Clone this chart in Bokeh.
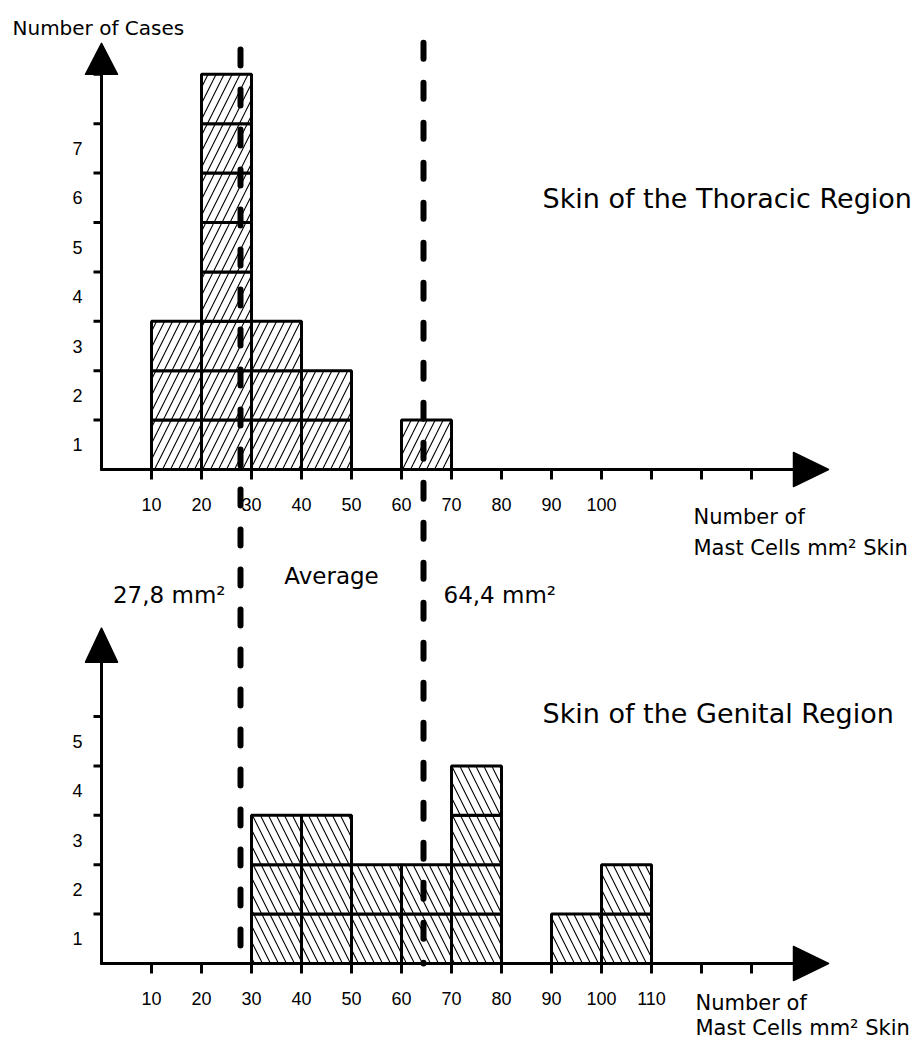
from bokeh.plotting import figure
from bokeh.models import Range1d
from bokeh.embed import file_html
from bokeh.resources import INLINE
from bokeh.core.properties import value

# ---------------- data ----------------
BIN_WIDTH = 10
thoracic_bins = [10, 20, 30, 40, 60]
thoracic_counts = [3, 8, 3, 2, 1]
genital_bins = [30, 40, 50, 60, 70, 90, 100]
genital_counts = [3, 3, 2, 2, 4, 1, 2]
averages = [27.8, 64.4]

x_ticks = [10, 20, 30, 40, 50, 60, 70, 80, 90, 100, 110, 120, 130]
thoracic_xlabels = [10, 20, 30, 40, 50, 60, 70, 80, 90, 100]
genital_xlabels = [10, 20, 30, 40, 50, 60, 70, 80, 90, 100, 110]
thoracic_yticks = [1, 2, 3, 4, 5, 6, 7, 8]
thoracic_ylabels = [1, 2, 3, 4, 5, 6, 7]
genital_yticks = [1, 2, 3, 4, 5]
genital_ylabels = [1, 2, 3, 4, 5]

title_top = "Skin of the Thoracic Region"
title_bottom = "Skin of the Genital Region"
y_title = "Number of Cases"
x_title = ["Number of", "Mast Cells mm\u00b2 Skin"]
avg_title = "Average"
avg_labels = [f"{a:.1f}".replace(".", ",") + " mm\u00b2" for a in averages]

# ---------------- layout ----------------
W, H = 918, 1040
PXX = 5.0      # px per unit on x
PXY = 49.4     # px per case on y
X0 = 101       # canvas px of x = 0
TOP_BASE = 469 # canvas px of top baseline
BOT_BASE = 963 # canvas px of bottom baseline

p = figure(width=W, height=H, output_backend="svg", toolbar_location=None,
           x_axis_type=None, y_axis_type=None, min_border=0,
           x_range=Range1d(-X0 / PXX, (W - X0) / PXX),
           y_range=Range1d((TOP_BASE - H) / PXY, TOP_BASE / PXY))
p.extra_y_ranges = {"bot": Range1d((BOT_BASE - H) / PXY, BOT_BASE / PXY)}
p.outline_line_color = None
p.background_fill_color = "white"
p.border_fill_color = "white"

INK = "black"
DEJAVU = value("DejaVu Sans")
LIB = value("Liberation Sans")


def panel(rn, bins, counts, hatch, yticks, ylabels, xlabels, yaxis_top, arrow_h):
    kw = {} if rn is None else {"y_range_name": rn}
    left, right, bottom, top = [], [], [], []
    for b, c in zip(bins, counts):
        for k in range(c):
            left.append(b)
            right.append(b + BIN_WIDTH)
            bottom.append(k)
            top.append(k + 1)
    p.quad(left=left, right=right, bottom=bottom, top=top,
           fill_color="white", hatch_pattern=hatch, hatch_color=INK,
           hatch_scale=16, hatch_weight=1.1,
           line_color=INK, line_width=3, **kw)
    # axes lines
    x_arrow_base = 138.4
    x_arrow_tip = x_arrow_base + 35 / PXX
    p.segment(x0=[0, 0], y0=[0, 0], x1=[0, x_arrow_base], y1=[yaxis_top, 0],
              line_color=INK, line_width=3, line_cap="round", **kw)
    # arrow heads
    hw = 16 / PXX
    hh = 17 / PXY
    p.patches(xs=[[-hw, hw, 0], [x_arrow_base, x_arrow_base, x_arrow_tip]],
              ys=[[yaxis_top, yaxis_top, yaxis_top + arrow_h / PXY], [-hh, hh, 0]],
              fill_color=INK, line_color=INK, line_width=1.5, line_join="round", **kw)
    # y ticks
    p.segment(x0=[-8 / PXX] * len(yticks), y0=yticks, x1=[0] * len(yticks), y1=yticks,
              line_color=INK, line_width=3, **kw)
    # x ticks
    p.segment(x0=x_ticks, y0=[0] * len(x_ticks), x1=x_ticks, y1=[-10 / PXY] * len(x_ticks),
              line_color=INK, line_width=3, **kw)
    # tick labels
    p.text(x=xlabels, y=[-35 / PXY] * len(xlabels), text=[str(v) for v in xlabels],
           text_font=LIB, text_font_size="18px", text_align="center",
           text_baseline="alphabetic", text_color=INK, **kw)
    p.text(x=[-24 / PXX] * len(ylabels), y=[v - 0.5 for v in ylabels],
           text=[str(v) for v in ylabels],
           text_font=LIB, text_font_size="18px", text_align="center",
           text_baseline="middle", text_color=INK, **kw)


panel(None, thoracic_bins, thoracic_counts, "/", thoracic_yticks, thoracic_ylabels,
      thoracic_xlabels, 8.0, 31)
panel("bot", genital_bins, genital_counts, "\\", genital_yticks, genital_ylabels,
      genital_xlabels, 6.1, 34)

# ---------------- texts ----------------
p.text(x=[-17.8], y=[8.93], text=[y_title], text_font=DEJAVU, text_font_size="20px",
       text_align="left", text_baseline="alphabetic", text_color=INK)
p.text(x=[88.2], y=[5.486], text=[title_top], text_font=DEJAVU, text_font_size="27px",
       text_align="left", text_baseline="alphabetic", text_color=INK)
p.text(x=[88.2], y=[5.06], text=[title_bottom], text_font=DEJAVU, text_font_size="27px",
       text_align="left", text_baseline="alphabetic", text_color=INK, y_range_name="bot")
p.text(x=[118.4, 118.4], y=[-0.97, -1.58], text=x_title, text_font=DEJAVU,
       text_font_size="21px", text_align="left", text_baseline="alphabetic", text_color=INK)
p.text(x=[118.8, 118.8], y=[-0.80, -1.30], text=x_title, text_font=DEJAVU,
       text_font_size="21px", text_align="left", text_baseline="alphabetic", text_color=INK,
       y_range_name="bot")
p.text(x=[46.0], y=[-2.15], text=[avg_title], text_font=DEJAVU, text_font_size="23px",
       text_align="center", text_baseline="alphabetic", text_color=INK)
p.text(x=[averages[0] - 3.0], y=[-2.55], text=[avg_labels[0]], text_font=DEJAVU,
       text_font_size="23px", text_align="right", text_baseline="alphabetic", text_color=INK)
p.text(x=[averages[1] + 4.0], y=[-2.55], text=[avg_labels[1]], text_font=DEJAVU,
       text_font_size="23px", text_align="left", text_baseline="alphabetic", text_color=INK)

# ---------------- average lines ----------------
p.segment(x0=averages, y0=[8.5, 8.64], x1=averages, y1=[-10.0, -10.0],
          line_color=INK, line_width=6, line_dash="16 24", line_cap="round")

open("out.html", "w").write(file_html(p, INLINE))
